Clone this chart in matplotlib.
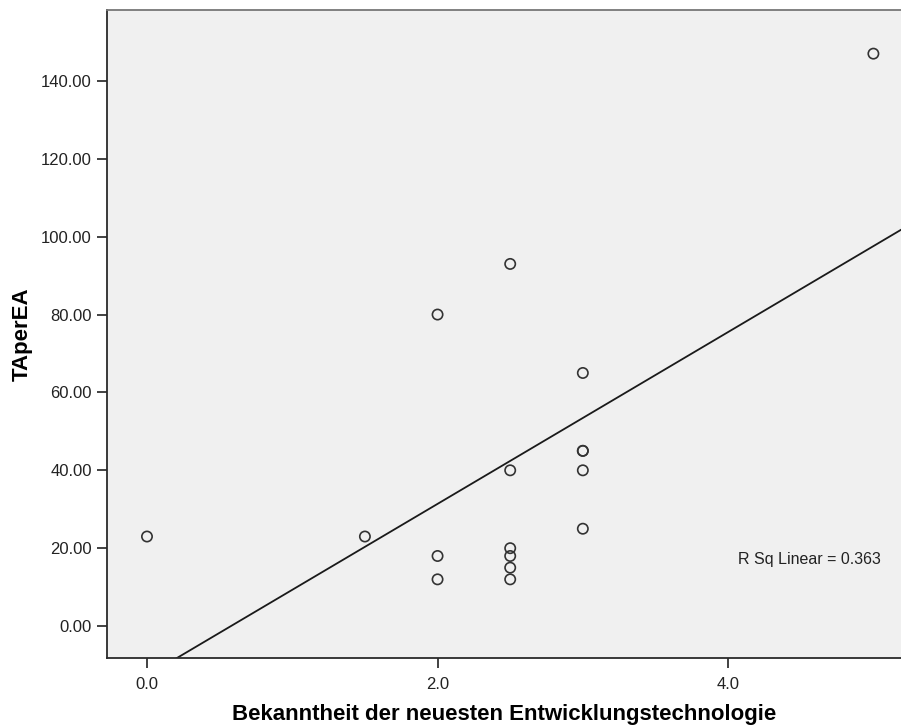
import matplotlib
matplotlib.use("Agg")
import matplotlib.pyplot as plt
import numpy as np

plt.rcParams['font.family'] = ['Liberation Sans', 'DejaVu Sans']

# knowledge score vs. TAperEA
bekanntheit = [0.0, 1.5, 2.0, 2.0, 2.0, 2.5, 2.5, 2.5, 2.5, 2.5, 2.5,
               3.0, 3.0, 3.0, 3.0, 3.0, 5.0]
taperea = [23, 23, 80, 18, 12, 93, 40, 20, 18, 15, 12,
           65, 45, 45, 40, 25, 147]

x_ticks = [0.0, 2.0, 4.0]
y_ticks = [0, 20, 40, 60, 80, 100, 120, 140]


def main():
    x = np.array(bekanntheit, dtype=float)
    y = np.array(taperea, dtype=float)
    slope, intercept = np.polyfit(x, y, 1)
    r2 = np.corrcoef(x, y)[0, 1] ** 2

    fig = plt.figure(figsize=(9.01, 7.27), dpi=100)
    ax = fig.add_axes([0.1188, 0.0949, 0.8812, 0.8913])
    ax.set_facecolor('#f0f0f0')

    xlim = (-0.275, 5.19)
    ylim = (-8.2, 158.2)
    ax.set_xlim(*xlim)
    ax.set_ylim(*ylim)

    xs = np.array(xlim)
    ax.plot(xs, intercept + slope * xs, color='#1a1a1a', lw=1.3, zorder=2)
    ax.scatter(x, y, s=55, facecolors='none', edgecolors='#333333',
               linewidths=1.2, zorder=3)

    ax.text(4.065, 17, 'R Sq Linear = %.3f' % r2, fontsize=11.5,
            color='#222222', va='center')

    ax.set_xticks(x_ticks)
    ax.set_xticklabels(['%.1f' % t for t in x_ticks])
    ax.set_yticks(y_ticks)
    ax.set_yticklabels(['%.2f' % t for t in y_ticks])
    ax.tick_params(direction='out', length=7, width=1.3, color='#333333',
                   labelsize=12, labelcolor='#222222', pad=4)
    ax.tick_params(axis='x', pad=7)

    for side in ['left', 'bottom']:
        ax.spines[side].set_color('#2a2a2a')
        ax.spines[side].set_linewidth(1.3)
    ax.spines['top'].set_color('#777777')
    ax.spines['top'].set_linewidth(1.3)
    ax.spines['right'].set_visible(False)

    ax.set_xlabel('Bekanntheit der neuesten Entwicklungstechnologie',
                  fontsize=16, fontweight='bold', labelpad=8)
    ax.set_ylabel('TAperEA', fontsize=16, fontweight='bold', labelpad=6)

    fig.savefig('out.png', dpi=100)


if __name__ == "__main__":
    main()
